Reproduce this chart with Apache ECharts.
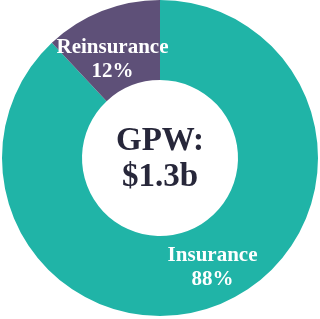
<!DOCTYPE html>
<html><head><meta charset="utf-8">
<script src="https://cdn.jsdelivr.net/npm/echarts@6/dist/echarts.min.js"></script>
<style>html,body{margin:0;padding:0;background:#fff}#c{width:320px;height:319px}</style>
</head><body><div id="c"></div>
<script>
const categories = ['Insurance', 'Reinsurance'];
const values = [88, 12];
const centerLines = ['GPW:', '$1.3b'];
const colors = ['#20b4a7', '#5e5078'];
const offsets = [[8, -3], [-3, 14]];

const chart = echarts.init(document.getElementById('c'), null, {renderer: 'canvas'});
chart.setOption({
  backgroundColor: '#ffffff',
  animation: false,
  graphic: [{
    type: 'text',
    left: 'center',
    top: 'middle',
    style: {
      text: centerLines.join('\n'),
      font: 'bold 33px "Liberation Serif", "Times New Roman", serif',
      fill: '#27273a',
      textAlign: 'center',
      lineHeight: 36
    }
  }],
  series: [{
    type: 'pie',
    center: [160, 158],
    radius: [78, 158],
    startAngle: 90,
    clockwise: true,
    silent: true,
    data: categories.map((n, i) => ({
      name: n,
      value: values[i],
      itemStyle: {color: colors[i]},
      label: {offset: offsets[i]}
    })),
    label: {
      show: true,
      position: 'inside',
      formatter: p => p.name + '\n' + p.value + '%',
      color: '#ffffff',
      fontFamily: '"Liberation Serif", "Times New Roman", serif',
      fontWeight: 'bold',
      fontSize: 21,
      lineHeight: 24,
      align: 'center'
    },
    labelLine: {show: false},
    itemStyle: {borderWidth: 0}
  }]
});
</script></body></html>
